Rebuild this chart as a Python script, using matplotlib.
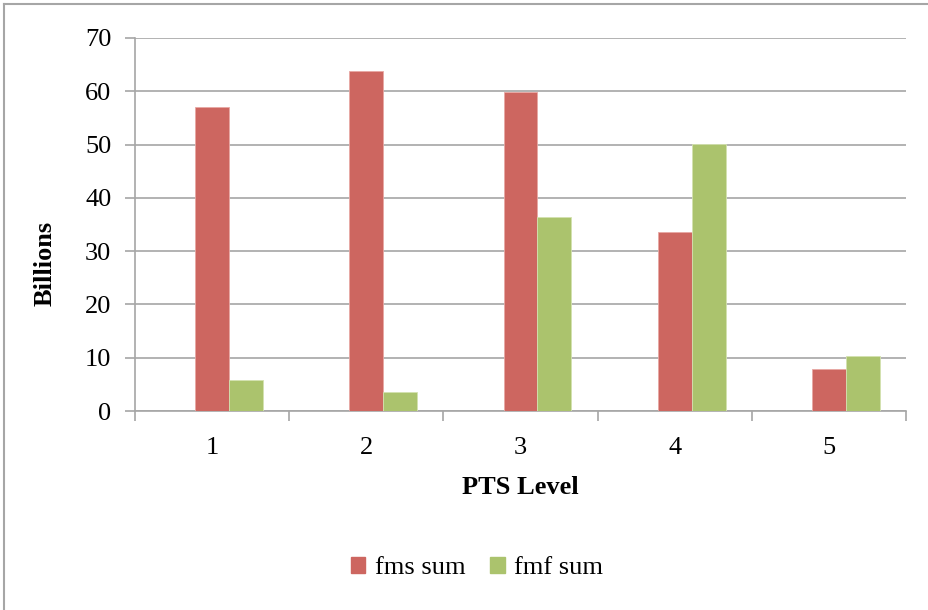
import numpy as np
from matplotlib import pyplot as plt
from matplotlib.lines import Line2D

# значения (в миллиардах)
levels = ['1', '2', '3', '4', '5']
fms_sum = [57.0, 63.8, 59.8, 33.6, 7.8]
fmf_sum = [5.8, 3.6, 36.5, 50.2, 10.4]
series_names = ['fms sum', 'fmf sum']
yticks = [0, 10, 20, 30, 40, 50, 60, 70]

red = '#CD6660'
green = '#ABC36D'
grid_color = '#A6A6A6'
fs = 19

W, H = 929, 610
plt.rcParams['font.family'] = ['Liberation Serif', 'DejaVu Serif']
fig = plt.figure(figsize=(W / 100, H / 100), dpi=100)

# область построения в пикселях
left, right, top, bottom = 135, 906, 38, 411
ax = fig.add_axes([left / W, 1 - bottom / H, (right - left) / W, (bottom - top) / H])

x = np.arange(len(levels))
w = 0.22
# красный столбик по центру категории, зеленый справа (как в Excel)
ax.bar(x, fms_sum, w, color=red, edgecolor='#E8A8A4', linewidth=0.6, label=series_names[0], zorder=3)
ax.bar(x + w, fmf_sum, w, color=green, edgecolor='#D3E2B0', linewidth=0.6, label=series_names[1], zorder=3)

ax.set_xlim(-0.5, len(levels) - 0.5)
ax.set_ylim(0, 70)
ax.set_yticks(yticks)
ax.yaxis.grid(True, color=grid_color, linewidth=1.2, zorder=0)

# засечки по оси x на границах категорий
ax.set_xticks(np.arange(len(levels) + 1) - 0.5)
ax.set_xticklabels([])
ax.set_xticks(x, minor=True)
ax.set_xticklabels(levels, minor=True)
ax.tick_params(axis='x', which='major', length=7, width=1.2, color=grid_color, direction='out')
ax.tick_params(axis='x', which='minor', length=0, pad=19, labelsize=fs)
ax.tick_params(axis='y', length=7, width=1.2, color=grid_color, pad=10, labelsize=fs)

for s in ['top', 'right']:
    ax.spines[s].set_visible(False)
for s in ['left', 'bottom']:
    ax.spines[s].set_color(grid_color)
    ax.spines[s].set_linewidth(1.2)

fig.text(45 / W, 1 - 263 / H, 'Billions', rotation=90, ha='center', va='center',
         fontsize=fs, fontweight='bold')
fig.text(520 / W, 1 - 488 / H, 'PTS Level', ha='center', va='center',
         fontsize=fs, fontweight='bold')

handles = [plt.Rectangle((0, 0), 1, 1, color=red), plt.Rectangle((0, 0), 1, 1, color=green)]
fig.legend(handles, series_names, loc='center', bbox_to_anchor=(477 / W, 1 - 568 / H),
           ncol=2, frameon=False, fontsize=fs, handlelength=0.55, handleheight=0.55,
           handletextpad=0.35, columnspacing=0.95)

# рамка диаграммы (видна слева и сверху)
fig.add_artist(Line2D([4.5 / W, 4.5 / W], [0, 1 - 3.5 / H], color='#A6A6A6', linewidth=1.5))
fig.add_artist(Line2D([4.5 / W, 1], [1 - 3.5 / H, 1 - 3.5 / H], color='#A6A6A6', linewidth=1.5))

fig.savefig('out.png', dpi=100)
